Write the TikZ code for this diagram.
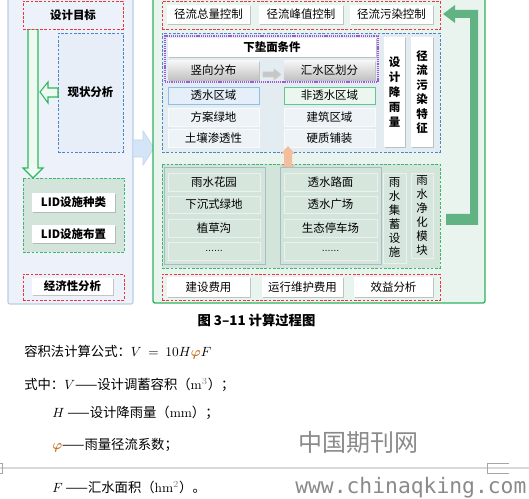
\documentclass[tikz,border=0pt]{standalone}
\usepackage{amsmath}
\usepackage{fontspec}
\newfontfamily\cjk{Noto Sans CJK SC}
\newfontfamily\monof{DejaVu Sans Mono}
\newfontfamily\dejavu{DejaVu Sans}
\usetikzlibrary{shadows}
\definecolor{lpanel}{HTML}{EDF2FA}
\definecolor{lpanelb}{HTML}{B9CDE8}
\definecolor{lstatus}{HTML}{E7EEF8}
\definecolor{rpanel}{HTML}{EAF4EE}
\definecolor{rpanelb}{HTML}{2DB35F}
\definecolor{dred}{HTML}{E8383D}
\definecolor{dblue}{HTML}{4A86C8}
\definecolor{dgreen}{HTML}{3CB86A}
\definecolor{dpurple}{HTML}{9B5BD4}
\definecolor{bluebg}{HTML}{E3ECF1}
\definecolor{lidbg}{HTML}{D3E4DA}
\definecolor{rowbl}{HTML}{EDF3F6}
\definecolor{rowgr}{HTML}{D6E6DD}
\definecolor{colb}{HTML}{A7BBC9}
\definecolor{tsfill}{HTML}{E4EFFA}
\definecolor{tsdraw}{HTML}{8EBFE8}
\definecolor{ntsfill}{HTML}{EAF6EE}
\definecolor{ntsdraw}{HTML}{5FC98D}
\definecolor{arrgreen}{HTML}{62B384}
\definecolor{hollowg}{HTML}{2EB85C}
\definecolor{peach}{HTML}{F3BE9C}
\definecolor{bigarr}{HTML}{D5E5F8}
\definecolor{bigarrb}{HTML}{C3D5EC}
\definecolor{wmark}{HTML}{8A8A8A}
\definecolor{phic}{HTML}{C8701A}
\newcommand{\bx}[7]{\node[#1,minimum width={(#5-(#3))*0.75pt},minimum height={(#6-(#4))*0.75pt}] (#2) at ({(#3+#5)/2},{(#4+#6)/2}) {#7};}
\tikzset{
  lbl/.style={font=\cjk\fontsize{8.6}{10.3}\selectfont, text=black, inner sep=0pt, outer sep=0pt},
  blbl/.style={lbl, font=\cjk\bfseries\fontsize{8.6}{10.3}\selectfont},
  shad/.style={drop shadow={shadow xshift=0.4pt, shadow yshift=-1pt, opacity=0.45, fill=black!45}},
  wbox/.style={lbl, fill=white, shad},
  wboxb/.style={blbl, fill=white, shad},
  gbox/.style={lbl, top color=black!4, bottom color=black!24, shad},
  frame/.style={inner sep=0pt, outer sep=0pt},
  reddash/.style={frame, draw=dred, dash pattern=on 2pt off 1.2pt, line width=0.7pt},
  bluedash/.style={frame, draw=dblue, dash pattern=on 2pt off 1.2pt, line width=0.7pt},
  greendash/.style={frame, draw=dgreen, dash pattern=on 2pt off 1.2pt, line width=0.7pt},
  purpdot/.style={frame, draw=dpurple, dash pattern=on 0.9pt off 0.7pt, line width=1pt},
  rowb/.style={lbl, fill=rowbl, draw=white!60!rowbl, line width=0.6pt},
  rowg/.style={lbl, fill=rowgr, draw=white!50!rowgr, line width=0.6pt},
  colbox/.style={frame, fill=lidbg, draw=colb, line width=0.6pt},
  tsbox/.style={lbl, fill=tsfill, draw=tsdraw, line width=0.6pt},
  ntsbox/.style={lbl, fill=ntsfill, draw=ntsdraw, line width=0.6pt},
  vtxtb/.style={align=center, font=\cjk\bfseries\fontsize{8.6}{11.2}\selectfont},
  vtxtb2/.style={align=center, font=\cjk\bfseries\fontsize{8.6}{10.9}\selectfont},
  vtxtr/.style={align=center, font=\cjk\fontsize{8.6}{10.5}\selectfont},
  lpan/.style={frame, fill=lpanel, draw=lpanelb, line width=0.8pt, rounded corners=1.5pt},
  rpan/.style={frame, fill=rpanel, draw=rpanelb, line width=1pt, rounded corners=1.5pt},
  hollow/.style={draw=hollowg, fill=white!92!hollowg, line width=0.8pt},
  txt/.style={font=\cjk\fontsize{10}{12}\selectfont, inner sep=0pt, anchor=west}
}
\begin{document}
\begin{tikzpicture}[x=0.75pt,y=-0.75pt]
\useasboundingbox[fill=white] (0,0) rectangle (529,499);

% ---------- left panel ----------
\bx{lpan}{lp}{8}{-4}{133}{304}{}
\draw[hollow] (28,29) -- (38,29) -- (38,168) -- (43,168) -- (33,178) -- (23,168) -- (28,168) -- cycle;
\bx{reddash,fill=lpanel,blbl}{goal}{23}{1}{123}{29}{设计目标}
\bx{bluedash,fill=lstatus,blbl}{status}{58}{33}{123}{152}{现状分析}
\draw[hollow] (40,92) -- (48,82) -- (48,88) -- (58,88) -- (58,97) -- (48,97) -- (48,103) -- cycle;
\bx{greendash,fill=lidbg}{lid}{23}{178}{124}{252}{}
\bx{wboxb}{lid1}{32}{193}{115}{212}{LID设施种类}
\bx{wboxb}{lid2}{32}{225}{115}{243}{LID设施布置}
\bx{reddash,fill=lpanel}{econ}{23}{274}{124}{300}{}
\bx{wboxb}{econ1}{32}{278}{113}{295}{经济性分析}

% ---------- big arrow between panels ----------
\draw[fill=bigarr, draw=bigarrb, line width=0.6pt] (133,140) -- (143,140) -- (143,131) -- (154,148) -- (143,165) -- (143,157) -- (133,157) -- cycle;

% ---------- right panel ----------
\bx{rpan}{rp}{153}{-4}{485}{303}{}
\fill[arrgreen] (443,14) -- (455,5) -- (455,10) -- (478,10) -- (478,225) -- (446,225) -- (446,214) -- (470,214) -- (470,18) -- (455,18) -- (455,23) -- cycle;

\bx{reddash,fill=rpanel}{ctrl}{162}{1}{440}{29}{}
\bx{wbox}{c1}{167}{5}{250}{24}{径流总量控制}
\bx{wbox}{c2}{259}{5}{343}{24}{径流峰值控制}
\bx{wbox}{c3}{350}{5}{433}{24}{径流污染控制}

\bx{bluedash,fill=bluebg}{surf}{162}{33}{440}{152}{}
\bx{wboxb}{cond0}{168}{38}{376}{57}{下垫面条件}
\bx{gbox}{vert}{168}{61}{259}{80}{竖向分布}
\bx{gbox}{catch}{284}{61}{375}{80}{汇水区划分}
\draw[fill=black!22, draw=white!80!black, line width=0.4pt] (263,72) -- (274,72) -- (274,69) -- (281,74.5) -- (274,80) -- (274,77) -- (263,77) -- cycle;
\bx{purpdot}{cond}{165}{36}{378}{82}{}
\bx{tsbox}{perm}{168}{87}{259}{104}{透水区域}
\bx{ntsbox}{imp}{284}{87}{375}{104}{非透水区域}
\bx{rowb}{p1}{168}{108}{259}{126}{方案绿地}
\bx{rowb}{p2}{168}{129}{259}{147}{土壤渗透性}
\bx{rowb}{i1}{284}{108}{375}{126}{建筑区域}
\bx{rowb}{i2}{284}{129}{375}{147}{硬质铺装}
\bx{wbox,vtxtb}{rain}{384}{37}{405}{147}{设\\计\\降\\雨\\量}
\bx{wbox,vtxtb2}{pol}{411}{37}{433}{147}{径\\流\\污\\染\\特\\征}

\bx{greendash,fill=lidbg}{lidr}{162}{164}{440}{268}{}
\fill[peach] (288,146) -- (295,154) -- (292,154) -- (292,165) -- (295,165) -- (288,173) -- (281,165) -- (284,165) -- (284,154) -- (281,154) -- cycle;
\bx{colbox}{colL}{164}{167}{265}{264}{}
\bx{colbox}{colR}{280}{167}{381}{264}{}
\bx{rowg}{l1}{168}{173}{260}{191}{雨水花园}
\bx{rowg}{l2}{168}{196}{260}{213}{下沉式绿地}
\bx{rowg}{l3}{168}{219}{260}{237}{植草沟}
\bx{rowg}{l4}{168}{242}{260}{260}{{\dejavu\fontsize{6.5}{7}\selectfont ……}}
\bx{rowg}{r1}{284}{173}{377}{191}{透水路面}
\bx{rowg}{r2}{284}{196}{377}{213}{透水广场}
\bx{rowg}{r3}{284}{219}{377}{237}{生态停车场}
\bx{rowg}{r4}{284}{242}{377}{260}{{\dejavu\fontsize{6.5}{7}\selectfont ……}}
\bx{rowg,vtxtr}{store}{383}{173}{406}{263}{雨\\水\\集\\蓄\\设\\施}
\bx{rowg,vtxtr}{pure}{411}{173}{433}{258}{雨\\水\\净\\化\\模\\块}

\bx{reddash,fill=rpanel}{cost}{162}{274}{440}{300}{}
\bx{wbox}{k1}{167}{277}{250}{297}{建设费用}
\bx{wbox}{k2}{262}{277}{343}{297}{运行维护费用}
\bx{wbox}{k3}{354}{277}{433}{297}{效益分析}

% ---------- caption and text ----------
\node[font=\cjk\bfseries\fontsize{10}{12}\selectfont, inner sep=0pt] (cap) at (256.5,320) {图 3–11 计算过程图};
\node[txt] (f1) at (24,352) {容积法计算公式：$V\ =\ 10H{\color{phic}\boldsymbol{\varphi}}F$};
\node[txt] (f2) at (24,385) {式中：$V$——设计调蓄容积（{\rmfamily m}\textsuperscript{\color{gray}\rmfamily 3}）；};
\node[txt] (f3) at (52,413) {$H$\ ——设计降雨量（{\rmfamily mm}）；};
\node[txt] (f4) at (52,445) {${\color{phic}\boldsymbol{\varphi}}$——雨量径流系数；};
\node[txt] (f5) at (52,487) {$F$\ ——汇水面积（{\rmfamily hm}\textsuperscript{\color{gray}\rmfamily 2}）。};

\node[font=\cjk\fontsize{18}{18}\selectfont, text=wmark, inner sep=0pt, anchor=west] (wm1) at (298,442) {中国期刊网};
\node[font=\monof\fontsize{16}{16}\selectfont, text=wmark, inner sep=0pt, anchor=west] (wm2) at (295,488) {www.chinaqking.com};

% page separator
\draw[black!15, line width=1.2pt] (0,468) -- (529,468);
\draw[black!35, line width=0.5pt] (509,463) -- (487,463) -- (487,473) -- (509,473);
\draw[black!35, line width=0.5pt] (0,463) -- (2,463) -- (2,473) -- (0,473);
\end{tikzpicture}
\end{document}
